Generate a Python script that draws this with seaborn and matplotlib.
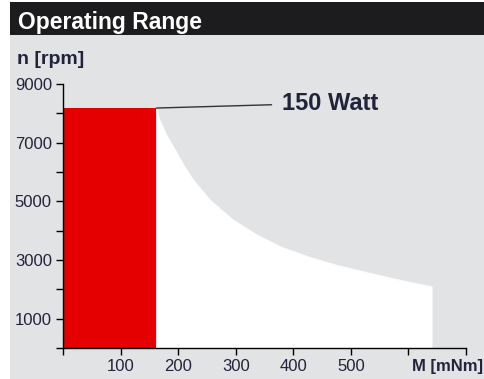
"""
Operating range chart: n [rpm] over M [mNm] with the 150 W limit curve.
"""

import matplotlib
matplotlib.use('Agg')
import matplotlib.pyplot as plt
import seaborn as sns
from matplotlib.patches import Rectangle

# Data
torque = [162, 168, 180, 195, 210, 226, 255, 295, 337, 380, 430, 480, 530, 580, 641]  # mNm
speed = [8180, 7770, 7250, 6750, 6220, 5730, 5050, 4370, 3850, 3430, 3080,
         2790, 2560, 2330, 2080]  # rpm
x_ticks = [0, 100, 200, 300, 400, 500, 600, 700]
x_labels = ['', '100', '200', '300', '400', '500', '', '']
y_ticks = [0, 1000, 2000, 3000, 4000, 5000, 6000, 7000, 8000, 9000]
y_labels = ['', '1000', '', '3000', '', '5000', '', '7000', '', '9000']
power_label = '150 Watt'
label_pos = (380, 8350)

# Styling
sns.set_theme(style='white')
plt.rcParams['font.family'] = ['Liberation Sans', 'DejaVu Sans']
BG = '#e2e3e5'
RED = '#e40000'
HEADER = '#1c1c1e'
TEXT = '#22223a'

W, H = 484, 379
fig = plt.figure(figsize=(W / 100, H / 100), dpi=100, facecolor='white')

# panel background and header bar (behind the axes)
fig.patches.append(Rectangle((10 / W, 0), 1, (H - 35) / H, transform=fig.transFigure,
                             facecolor=BG, edgecolor='none', zorder=-5))
fig.patches.append(Rectangle((10 / W, (H - 35) / H), 1, 33 / H, transform=fig.transFigure,
                             facecolor=HEADER, edgecolor='none', zorder=-5))
fig.text(18 / W, 1 - 22 / H, 'Operating Range', color='white', fontsize=16.5,
         fontweight='bold', va='center', ha='left')
fig.text(17 / W, 1 - 64 / H, 'n [rpm]', color=TEXT, fontsize=14,
         fontweight='bold', va='baseline', ha='left')
fig.text(412 / W, 1 - 359 / H, 'M [mNm]', color=TEXT, fontsize=12,
         fontweight='bold', va='top', ha='left')

ax = fig.add_axes([63 / W, (H - 348) / H, 403 / W, 264 / H])
ax.set_zorder(1)
ax.set_facecolor(BG)

# continuous operation (red) and short-term range (white) under the power curve
ax.fill_between([0, torque[0]], 0, speed[0], color=RED, linewidth=0, zorder=2)
ax.fill_between(torque, 0, speed, color='white', linewidth=0, zorder=1)
sns.lineplot(x=torque, y=speed, color='white', linewidth=0.8, ax=ax, zorder=1)

ax.annotate(power_label, xy=(torque[0], speed[0]), xytext=label_pos,
            fontsize=17, fontweight='bold', color=TEXT, ha='left', va='center',
            arrowprops=dict(arrowstyle='-', color='#333333', lw=1.0,
                            shrinkA=5, shrinkB=0))

ax.set_xlim(0, 700)
ax.set_ylim(0, 9000)
ax.set_xticks(x_ticks)
ax.set_xticklabels(x_labels)
ax.set_yticks(y_ticks)
ax.set_yticklabels(y_labels)
ax.tick_params(axis='both', direction='out', length=5, width=1.0, color='black',
               labelsize=12, labelcolor=TEXT, pad=3, bottom=True, left=True)

for side in ['top', 'right']:
    ax.spines[side].set_visible(False)
for side in ['left', 'bottom']:
    ax.spines[side].set_color('black')
    ax.spines[side].set_linewidth(1.0)
    ax.spines[side].set_zorder(3)

plt.savefig('out.png', dpi=100, facecolor=fig.get_facecolor())
plt.close()
